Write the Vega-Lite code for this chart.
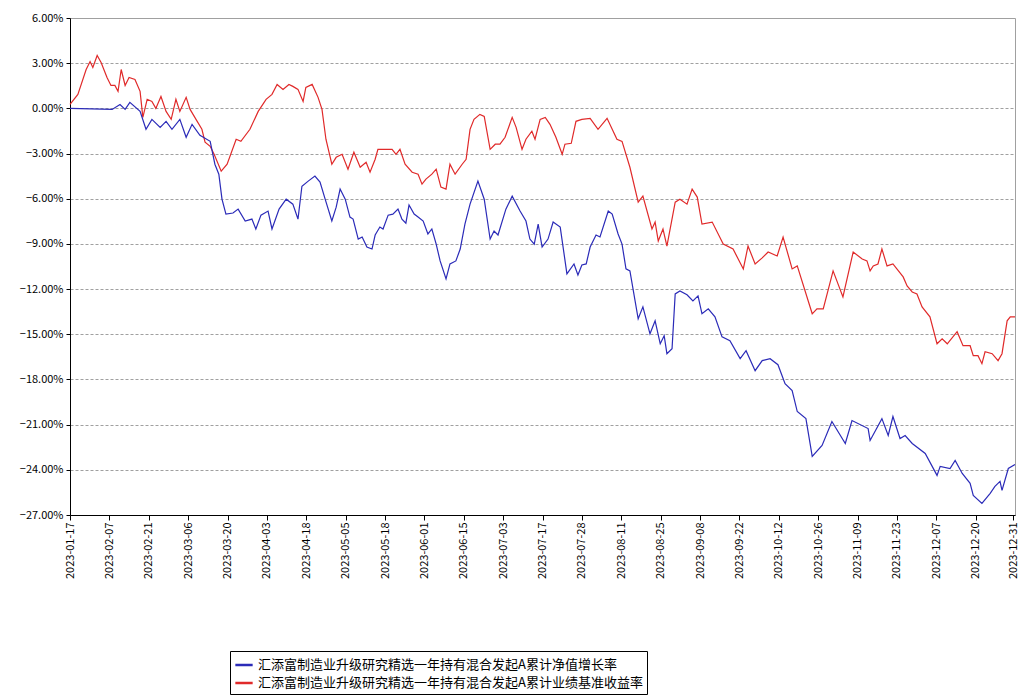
{
  "$schema": "https://vega.github.io/schema/vega-lite/v6.json",
  "autosize": "none",
  "width": 945,
  "height": 497,
  "padding": {"left": 70, "top": 18, "right": 4, "bottom": 183},
  "background": "white",
  "config": {
    "view": {"stroke": "#a0a0a0"},
    "font": "Noto Sans CJK SC"
  },
  "datasets": {
    "red": [
      {"t":0,"v":0.26},{"t":2.0,"v":0.93},{"t":4.1,"v":2.58},{"t":5.1,"v":3.11},{"t":5.8,"v":2.72},{"t":6.9,"v":3.51},{"t":7.9,"v":3.05},{"t":9.4,"v":2.05},{"t":10.4,"v":1.52},{"t":11.4,"v":1.52},{"t":12.2,"v":1.13},{"t":13.0,"v":2.58},{"t":14.0,"v":1.52},{"t":15.0,"v":2.05},{"t":16.5,"v":1.92},{"t":17.8,"v":1.13},{"t":18.5,"v":-0.6},{"t":19.6,"v":0.6},{"t":20.8,"v":0.46},{"t":21.8,"v":0},{"t":23.1,"v":0.79},{"t":24.4,"v":-0.2},{"t":25.7,"v":-0.73},{"t":26.9,"v":0.6},{"t":27.9,"v":-0.2},{"t":29.5,"v":0.73},{"t":30.5,"v":-0.07},{"t":32.0,"v":-0.73},{"t":33.5,"v":-1.39},{"t":34.3,"v":-2.25},{"t":35.6,"v":-2.52},{"t":36.6,"v":-3.05},{"t":38.4,"v":-4.17},{"t":39.9,"v":-3.71},{"t":42.2,"v":-2.05},{"t":43.4,"v":-2.19},{"t":45.7,"v":-1.39},{"t":47.8,"v":-0.2},{"t":49.8,"v":0.6},{"t":51.3,"v":0.93},{"t":52.6,"v":1.59},{"t":54.1,"v":1.26},{"t":55.6,"v":1.59},{"t":56.6,"v":1.46},{"t":57.9,"v":1.26},{"t":59.2,"v":0.46},{"t":59.9,"v":1.39},{"t":61.5,"v":1.59},{"t":63.0,"v":0.73},{"t":64.0,"v":-0.07},{"t":65.0,"v":-2.05},{"t":66.5,"v":-3.71},{"t":67.6,"v":-3.25},{"t":69.1,"v":-3.05},{"t":70.6,"v":-4.04},{"t":72.1,"v":-2.91},{"t":73.7,"v":-3.91},{"t":75.2,"v":-3.58},{"t":76.2,"v":-4.24},{"t":77.5,"v":-3.38},{"t":78.2,"v":-2.72},{"t":81.8,"v":-2.72},{"t":82.8,"v":-3.05},{"t":83.8,"v":-2.72},{"t":85.1,"v":-3.71},{"t":86.9,"v":-4.24},{"t":88.4,"v":-4.37},{"t":89.4,"v":-5.03},{"t":90.4,"v":-4.7},{"t":91.9,"v":-4.37},{"t":93.0,"v":-4.04},{"t":94.2,"v":-5.23},{"t":95.5,"v":-5.36},{"t":96.5,"v":-3.71},{"t":97.8,"v":-4.37},{"t":99.6,"v":-3.71},{"t":100.6,"v":-3.38},{"t":101.6,"v":-1.39},{"t":102.6,"v":-0.73},{"t":104.1,"v":-0.4},{"t":105.2,"v":-0.53},{"t":106.7,"v":-2.72},{"t":108.0,"v":-2.38},{"t":109.2,"v":-2.38},{"t":110.5,"v":-1.92},{"t":112.3,"v":-0.6},{"t":113.3,"v":-1.26},{"t":114.8,"v":-2.72},{"t":115.8,"v":-2.05},{"t":117.3,"v":-1.52},{"t":118.1,"v":-2.05},{"t":119.4,"v":-0.73},{"t":120.7,"v":-0.6},{"t":121.9,"v":-1.06},{"t":123.4,"v":-1.92},{"t":125.0,"v":-3.05},{"t":125.7,"v":-2.38},{"t":127.3,"v":-2.32},{"t":128.5,"v":-0.86},{"t":130.0,"v":-0.73},{"t":132.1,"v":-0.66},{"t":134.1,"v":-1.39},{"t":136.4,"v":-0.66},{"t":138.9,"v":-2.05},{"t":140.2,"v":-2.19},{"t":142.2,"v":-3.91},{"t":144.3,"v":-6.23},{"t":145.5,"v":-5.83},{"t":147.8,"v":-8.01},{"t":148.6,"v":-7.55},{"t":149.4,"v":-8.81},{"t":150.6,"v":-8.01},{"t":151.6,"v":-9.14},{"t":153.7,"v":-6.23},{"t":154.9,"v":-6.03},{"t":156.7,"v":-6.36},{"t":158.0,"v":-5.36},{"t":159.3,"v":-5.89},{"t":160.5,"v":-7.68},{"t":163.1,"v":-7.55},{"t":165.9,"v":-9.01},{"t":168.4,"v":-9.34},{"t":171.0,"v":-10.66},{"t":172.2,"v":-9.14},{"t":174.0,"v":-10.33},{"t":175.8,"v":-9.93},{"t":177.3,"v":-9.54},{"t":179.6,"v":-9.8},{"t":181.1,"v":-8.54},{"t":183.4,"v":-10.66},{"t":184.7,"v":-10.46},{"t":188.5,"v":-13.64},{"t":189.7,"v":-13.31},{"t":191.3,"v":-13.31},{"t":193.8,"v":-10.79},{"t":196.3,"v":-12.52},{"t":198.9,"v":-9.54},{"t":201.2,"v":-10.0},{"t":202.4,"v":-10.13},{"t":203.2,"v":-10.79},{"t":204.0,"v":-10.46},{"t":205.2,"v":-10.33},{"t":206.2,"v":-9.34},{"t":207.5,"v":-10.46},{"t":209.0,"v":-10.33},{"t":211.6,"v":-11.19},{"t":212.6,"v":-11.79},{"t":213.9,"v":-12.19},{"t":215.1,"v":-12.32},{"t":216.4,"v":-13.18},{"t":218.4,"v":-13.84},{"t":220.2,"v":-15.63},{"t":221.5,"v":-15.3},{"t":222.8,"v":-15.63},{"t":225.3,"v":-14.83},{"t":226.8,"v":-15.76},{"t":228.6,"v":-15.76},{"t":229.4,"v":-16.42},{"t":230.6,"v":-16.42},{"t":231.6,"v":-16.95},{"t":232.4,"v":-16.16},{"t":234.2,"v":-16.29},{"t":235.7,"v":-16.75},{"t":236.7,"v":-16.29},{"t":238.0,"v":-14.11},{"t":238.8,"v":-13.84},{"t":240.0,"v":-13.84}
    ],
    "blue": [
      {"t":0,"v":0},{"t":10.7,"v":-0.07},{"t":12.7,"v":0.26},{"t":14.0,"v":-0.07},{"t":15.2,"v":0.4},{"t":17.8,"v":-0.2},{"t":19.3,"v":-1.39},{"t":20.8,"v":-0.73},{"t":22.9,"v":-1.26},{"t":24.4,"v":-0.86},{"t":25.9,"v":-1.39},{"t":27.9,"v":-0.73},{"t":29.5,"v":-1.92},{"t":31.0,"v":-1.06},{"t":33.0,"v":-1.79},{"t":35.6,"v":-2.19},{"t":36.8,"v":-3.71},{"t":37.8,"v":-4.37},{"t":38.6,"v":-6.03},{"t":39.6,"v":-7.02},{"t":41.4,"v":-6.95},{"t":42.7,"v":-6.69},{"t":44.5,"v":-7.48},{"t":46.2,"v":-7.35},{"t":47.2,"v":-8.01},{"t":48.5,"v":-7.09},{"t":50.3,"v":-6.82},{"t":51.3,"v":-8.01},{"t":53.1,"v":-6.69},{"t":54.9,"v":-6.03},{"t":56.6,"v":-6.36},{"t":57.9,"v":-7.35},{"t":58.9,"v":-5.17},{"t":60.5,"v":-4.83},{"t":62.2,"v":-4.5},{"t":63.5,"v":-4.9},{"t":64.8,"v":-6.03},{"t":66.5,"v":-7.48},{"t":67.6,"v":-6.56},{"t":68.6,"v":-5.36},{"t":69.9,"v":-6.03},{"t":71.1,"v":-7.22},{"t":71.9,"v":-7.35},{"t":73.2,"v":-8.68},{"t":74.2,"v":-8.54},{"t":75.4,"v":-9.21},{"t":76.7,"v":-9.34},{"t":77.5,"v":-8.41},{"t":78.7,"v":-7.88},{"t":79.5,"v":-8.01},{"t":80.8,"v":-7.09},{"t":82.0,"v":-7.02},{"t":83.3,"v":-6.69},{"t":84.3,"v":-7.35},{"t":85.3,"v":-7.62},{"t":86.1,"v":-6.42},{"t":87.4,"v":-7.02},{"t":88.4,"v":-7.22},{"t":89.7,"v":-7.48},{"t":90.9,"v":-8.34},{"t":91.9,"v":-8.01},{"t":93.0,"v":-9.01},{"t":94.0,"v":-10.13},{"t":95.5,"v":-11.32},{"t":96.5,"v":-10.33},{"t":98.0,"v":-10.13},{"t":99.1,"v":-9.34},{"t":100.3,"v":-7.68},{"t":101.6,"v":-6.36},{"t":103.6,"v":-4.83},{"t":105.2,"v":-6.03},{"t":106.7,"v":-8.68},{"t":107.7,"v":-8.15},{"t":108.7,"v":-8.41},{"t":110.7,"v":-6.69},{"t":112.3,"v":-5.83},{"t":114.3,"v":-6.82},{"t":115.8,"v":-7.48},{"t":116.8,"v":-8.68},{"t":117.9,"v":-9.01},{"t":118.9,"v":-7.68},{"t":119.9,"v":-9.21},{"t":121.4,"v":-8.68},{"t":122.7,"v":-7.55},{"t":124.5,"v":-7.88},{"t":126.2,"v":-10.99},{"t":128.0,"v":-10.33},{"t":129.0,"v":-11.06},{"t":130.0,"v":-10.4},{"t":131.1,"v":-10.33},{"t":132.1,"v":-9.21},{"t":133.6,"v":-8.41},{"t":134.6,"v":-8.54},{"t":136.7,"v":-6.82},{"t":137.7,"v":-7.02},{"t":139.2,"v":-8.34},{"t":140.2,"v":-9.01},{"t":141.2,"v":-10.66},{"t":142.2,"v":-10.79},{"t":144.3,"v":-13.97},{"t":145.5,"v":-13.18},{"t":147.3,"v":-14.97},{"t":148.6,"v":-14.11},{"t":149.9,"v":-15.63},{"t":150.9,"v":-15.1},{"t":151.6,"v":-16.29},{"t":152.9,"v":-15.96},{"t":153.7,"v":-12.32},{"t":154.9,"v":-12.12},{"t":156.7,"v":-12.38},{"t":158.2,"v":-12.78},{"t":159.5,"v":-12.45},{"t":160.5,"v":-13.64},{"t":162.1,"v":-13.31},{"t":163.8,"v":-13.84},{"t":165.6,"v":-15.17},{"t":167.6,"v":-15.43},{"t":170.2,"v":-16.62},{"t":171.7,"v":-16.09},{"t":174.0,"v":-17.42},{"t":175.8,"v":-16.75},{"t":177.8,"v":-16.62},{"t":179.8,"v":-17.02},{"t":181.6,"v":-18.28},{"t":183.4,"v":-18.74},{"t":184.7,"v":-20.13},{"t":186.9,"v":-20.6},{"t":188.5,"v":-23.11},{"t":191.0,"v":-22.38},{"t":193.5,"v":-20.79},{"t":196.9,"v":-22.25},{"t":198.6,"v":-20.73},{"t":202.7,"v":-21.26},{"t":203.2,"v":-22.05},{"t":206.2,"v":-20.6},{"t":207.8,"v":-21.72},{"t":209.0,"v":-20.46},{"t":210.8,"v":-21.92},{"t":212.1,"v":-21.72},{"t":213.9,"v":-22.25},{"t":217.2,"v":-22.91},{"t":220.2,"v":-24.37},{"t":221.0,"v":-23.77},{"t":223.5,"v":-23.91},{"t":224.8,"v":-23.38},{"t":226.6,"v":-24.24},{"t":228.6,"v":-24.9},{"t":229.4,"v":-25.7},{"t":231.6,"v":-26.23},{"t":233.7,"v":-25.56},{"t":234.9,"v":-25.1},{"t":236.2,"v":-24.77},{"t":236.7,"v":-25.36},{"t":238.3,"v":-23.91},{"t":240.0,"v":-23.64}
    ]
  },
  "encoding": {
    "x": {
      "field": "t", "type": "quantitative",
      "scale": {"domain": [0, 240], "nice": false, "zero": false},
      "axis": {
        "title": null,
        "values": [0,10,20,30,40,50,60,70,80,90,100,110,120,130,140,150,160,170,180,190,200,210,220,230,239.5],
        "labelExpr": "datum.value > 235 ? '2023-12-31' : ['2023-01-17','2023-02-07','2023-02-21','2023-03-06','2023-03-20','2023-04-03','2023-04-18','2023-05-05','2023-05-18','2023-06-01','2023-06-15','2023-07-03','2023-07-17','2023-07-28','2023-08-11','2023-08-25','2023-09-08','2023-09-22','2023-10-12','2023-10-26','2023-11-09','2023-11-23','2023-12-07','2023-12-20'][round(datum.value/10)]",
        "labelAngle": -90,
        "labelAlign": "right",
        "labelBaseline": "middle",
        "labelFontSize": 11,
        "labelColor": "#000",
        "grid": false,
        "domainColor": "#000",
        "tickColor": "#000",
        "tickSize": 5,
        "labelOverlap": false,
        "labelFlush": false,
        "labelBound": false
      }
    },
    "y": {
      "field": "v", "type": "quantitative",
      "scale": {"domain": [-27, 6], "nice": false},
      "axis": {
        "title": null,
        "values": [6,3,0,-3,-6,-9,-12,-15,-18,-21,-24,-27],
        "labelExpr": "format(datum.value, '.2f') + '%'",
        "labelFontSize": 11,
        "labelColor": "#000",
        "domainColor": "#000",
        "tickColor": "#000",
        "tickSize": 4,
        "gridColor": "#a0a0a0",
        "gridDash": [3, 2],
        "labelPadding": 3
      }
    },
    "color": {
      "field": "s", "type": "nominal",
      "scale": {
        "domain": ["汇添富制造业升级研究精选一年持有混合发起A累计净值增长率", "汇添富制造业升级研究精选一年持有混合发起A累计业绩基准收益率"],
        "range": ["#2b2bb8", "#e02a2a"]
      },
      "legend": {
        "title": null,
        "orient": "none",
        "legendX": 160,
        "legendY": 633,
        "direction": "vertical",
        "symbolType": "stroke",
        "symbolStrokeWidth": 2.5,
        "symbolSize": 300,
        "labelFontSize": 13,
        "labelColor": "#000",
        "labelLimit": 600,
        "strokeColor": "#000",
        "padding": 4,
        "rowPadding": 1,
        "fillColor": "white"
      }
    }
  },
  "layer": [
    {
      "data": {"name": "red"},
      "transform": [
        {"calculate": "'汇添富制造业升级研究精选一年持有混合发起A累计业绩基准收益率'", "as": "s"}
      ],
      "mark": {"type": "line", "strokeWidth": 1.2}
    },
    {
      "data": {"name": "blue"},
      "transform": [
        {"calculate": "'汇添富制造业升级研究精选一年持有混合发起A累计净值增长率'", "as": "s"}
      ],
      "mark": {"type": "line", "strokeWidth": 1.2}
    }
  ]
}
